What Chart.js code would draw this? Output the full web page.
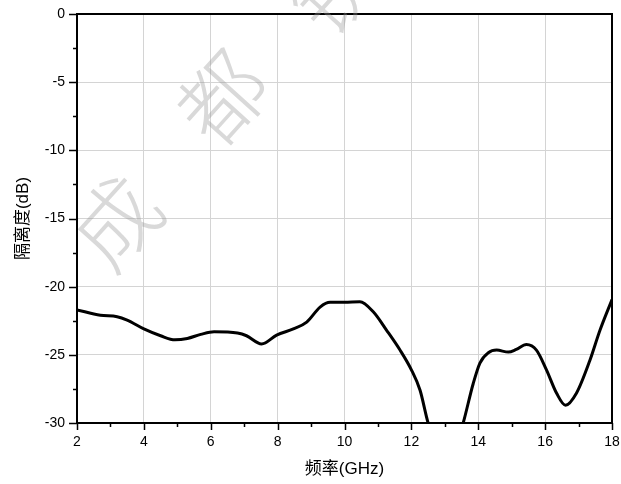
<!DOCTYPE html>
<html>
<head>
<meta charset="utf-8">
<script src="https://cdn.jsdelivr.net/npm/chart.js@4/dist/chart.umd.min.js"></script>
<style>
  html, body { margin: 0; padding: 0; background: #fff; }
  #wrap { width: 621px; height: 484px; position: relative; }
</style>
</head>
<body>
<div id="wrap"><canvas id="c" width="621" height="484"></canvas></div>
<script>
// Isolation vs. frequency
const freqGHz = [2, 2.7, 3.2, 3.5, 4.0, 4.5, 4.93, 5.3, 5.7, 6.1, 6.8, 7.07, 7.52, 7.97, 8.47, 8.87, 9.27, 9.57, 10.0, 10.46, 10.86, 11.26, 11.66, 12.0, 12.26, 12.5, 12.8, 13.05, 13.3, 13.55, 13.85, 14.05, 14.3, 14.55, 14.9, 15.14, 15.44, 15.74, 16.04, 16.34, 16.61, 16.94, 17.34, 17.64, 18];
const isolationDb = [-21.7, -22.1, -22.2, -22.45, -23.1, -23.6, -23.9, -23.8, -23.5, -23.3, -23.4, -23.6, -24.2, -23.55, -23.1, -22.6, -21.5, -21.15, -21.15, -21.1, -21.84, -23.2, -24.65, -26.1, -27.6, -30, -32, -32.8, -32, -30, -27.1, -25.6, -24.85, -24.65, -24.8, -24.6, -24.25, -24.65, -26.1, -27.8, -28.7, -27.8, -25.4, -23.2, -20.95];

const xTickLabels = [2, 4, 6, 8, 10, 12, 14, 16, 18];
const yTickLabels = [0, -5, -10, -15, -20, -25, -30];
const watermarkChars = ['成', '都', '锐'];

const points = freqGHz.map((f, i) => ({ x: f, y: isolationDb[i] }));

const near = (arr, v) => arr.some(a => Math.abs(a - v) < 1e-6);

// frame, outward major/minor ticks and watermark
const decorations = {
  id: 'decorations',
  afterDraw(chart) {
    const ctx = chart.ctx;
    const a = chart.chartArea;
    const xs = chart.scales.x, ys = chart.scales.y;
    ctx.save();
    ctx.strokeStyle = '#000';
    ctx.lineWidth = 1.5;
    ctx.beginPath();
    xs.ticks.forEach(t => {
      const px = Math.round(xs.getPixelForValue(t.value)) + 0.5;
      const len = near(xTickLabels, t.value) ? 7 : 4;
      ctx.moveTo(px, a.bottom);
      ctx.lineTo(px, a.bottom + len);
    });
    ys.ticks.forEach(t => {
      const py = Math.round(ys.getPixelForValue(t.value)) + 0.5;
      const len = near(yTickLabels, t.value) ? 8 : 4;
      ctx.moveTo(a.left, py);
      ctx.lineTo(a.left - len, py);
    });
    ctx.stroke();
    ctx.lineWidth = 2;
    ctx.strokeRect(a.left, a.top, a.right - a.left, a.bottom - a.top);

    // faint rotated watermark characters
    ctx.fillStyle = 'rgba(150,150,150,0.36)';
    ctx.font = '300 86px "Noto Sans CJK SC"';
    ctx.textAlign = 'center';
    ctx.textBaseline = 'middle';
    const centers = [[116, 222], [222, 98], [333, -12]];
    watermarkChars.forEach((ch, i) => {
      ctx.save();
      ctx.translate(centers[i][0], centers[i][1]);
      ctx.rotate(-48 * Math.PI / 180);
      ctx.fillText(ch, 0, 0);
      ctx.restore();
    });
    ctx.restore();
  }
};

new Chart(document.getElementById('c'), {
  type: 'line',
  data: {
    datasets: [{
      data: points,
      borderColor: '#000',
      borderWidth: 3,
      pointRadius: 0,
      fill: false,
      cubicInterpolationMode: 'monotone'
    }]
  },
  options: {
    responsive: false,
    animation: false,
    devicePixelRatio: 1,
    layout: { padding: { top: 14, right: 9, left: 0, bottom: 0 } },
    plugins: { legend: { display: false }, tooltip: { enabled: false } },
    scales: {
      x: {
        type: 'linear',
        min: 2, max: 18,
        afterFit(s) { s.height = 61; s.paddingLeft = 0; s.paddingRight = 0; },
        border: { display: false },
        grid: {
          drawTicks: false,
          lineWidth: 1,
          color: c => near(xTickLabels, c.tick.value) ? '#d4d4d4' : 'rgba(0,0,0,0)'
        },
        ticks: {
          stepSize: 1,
          autoSkip: false,
          maxRotation: 0,
          padding: 11,
          color: '#000',
          font: { family: '"Liberation Sans", Arial, sans-serif', size: 14 },
          callback: v => near(xTickLabels, v) ? String(v) : ''
        },
        title: {
          display: true,
          text: '频率(GHz)',
          color: '#000',
          padding: { top: 0, bottom: 4 },
          font: { family: '"Liberation Sans", "Noto Sans CJK SC", sans-serif', size: 17 }
        }
      },
      y: {
        type: 'linear',
        min: -30, max: 0,
        afterFit(s) { s.width = 77; s.paddingTop = 0; s.paddingBottom = 0; },
        border: { display: false },
        grid: {
          drawTicks: false,
          lineWidth: 1,
          color: c => near(yTickLabels, c.tick.value) ? '#d4d4d4' : 'rgba(0,0,0,0)'
        },
        ticks: {
          stepSize: 2.5,
          autoSkip: false,
          padding: 12,
          color: '#000',
          font: { family: '"Liberation Sans", Arial, sans-serif', size: 14 },
          callback: v => near(yTickLabels, v) ? String(v) : ''
        },
        title: {
          display: true,
          text: '隔离度(dB)',
          color: '#000',
          padding: { top: 13, bottom: 0 },
          font: { family: '"Liberation Sans", "Noto Sans CJK SC", sans-serif', size: 17 }
        }
      }
    }
  },
  plugins: [decorations]
});
</script>
</body>
</html>
